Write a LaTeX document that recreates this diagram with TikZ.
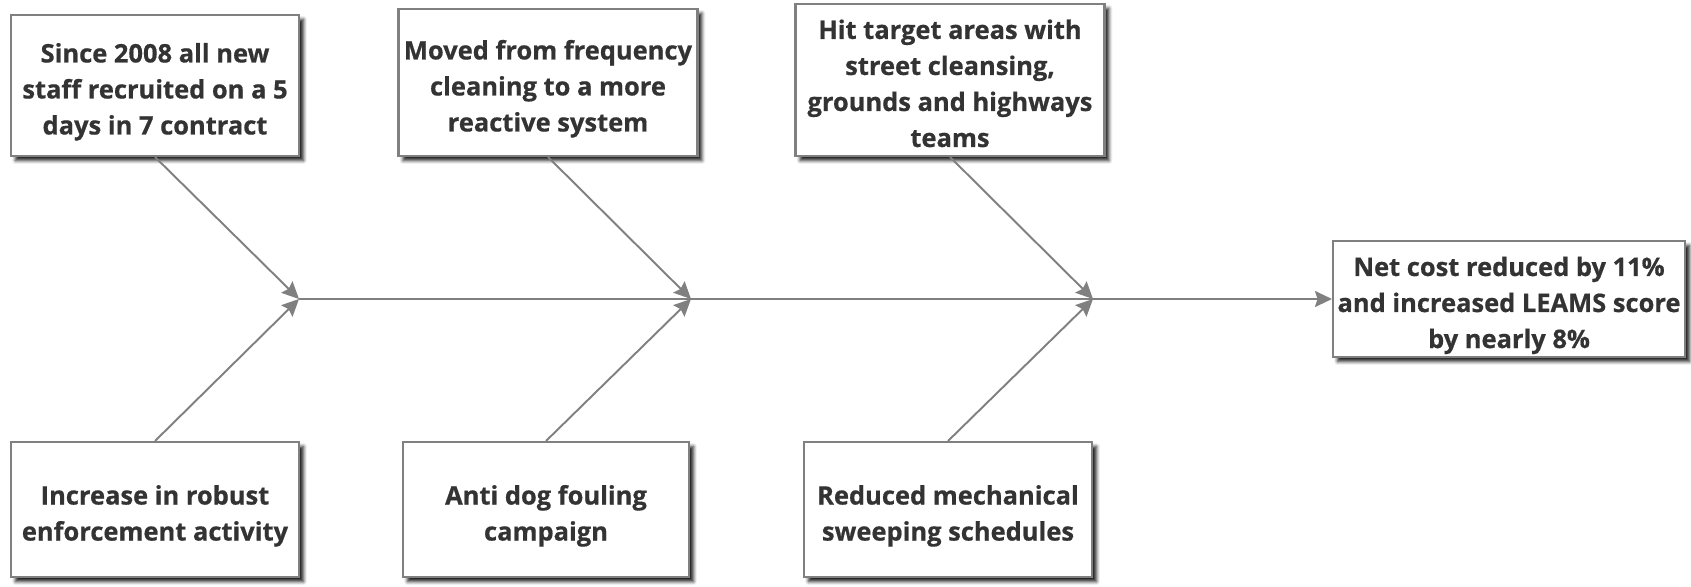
\documentclass[tikz,border=0pt]{standalone}
\usepackage{fontspec}
\setmainfont{Open Sans}[BoldFont={* Bold}, BoldFeatures={FakeBold=0.6}]
\usetikzlibrary{arrows.meta,shadows.blur}
\definecolor{linegray}{HTML}{808080}
\definecolor{textgray}{HTML}{333333}
% text of a box, set a little lower than centre
\newcommand{\boxlines}[1]{\raisebox{-3.3pt}[\height][\depth]{\begin{tabular}{@{}c@{}}#1\end{tabular}}}
\begin{document}
\begin{tikzpicture}[
  x=0.02cm, y=-0.02cm,
  box/.style={draw=linegray, line width=1.2pt, fill=white, align=center, inner sep=1pt,
    text=textgray, font=\fontsize{14.5}{20.5}\selectfont\bfseries,
    blur shadow={shadow xshift=0.09cm, shadow yshift=-0.09cm, shadow blur radius=0.07cm, shadow opacity=90}},
  arrow/.style={-{Stealth[length=0.34cm, width=0.32cm, inset=0.05cm]}, draw=linegray, fill=linegray, line width=1.1pt}
]
\useasboundingbox (0,0) rectangle (1691,587);
% causes above the spine
\node[box, anchor=south, minimum width=5.76cm, minimum height=2.82cm] (staff) at (155,157) {\boxlines{Since 2008 all new\\staff recruited on a 5\\days in 7 contract}};
\node[box, anchor=south, minimum width=5.98cm, minimum height=2.94cm] (clean) at (548,157) {\boxlines{Moved from frequency\\cleaning to a more\\reactive system}};
\node[box, anchor=south, minimum width=6.18cm, minimum height=3.04cm] (target) at (950,157) {\boxlines{Hit target areas with\\street cleansing,\\grounds and highways\\teams}};
% causes below the spine
\node[box, anchor=north, minimum width=5.76cm, minimum height=2.7cm] (enforce) at (155,441) {\boxlines{Increase in robust\\enforcement activity}};
\node[box, anchor=north, minimum width=5.72cm, minimum height=2.7cm] (dog) at (546,441) {\boxlines{Anti dog fouling\\campaign}};
\node[box, anchor=north, minimum width=5.76cm, minimum height=2.7cm] (sweep) at (948,441) {\boxlines{Reduced mechanical\\sweeping schedules}};
% effect
\node[box, minimum width=7.04cm, minimum height=2.32cm] (result) at (1509,299) {\boxlines{Net cost reduced by 11\%\\and increased LEAMS score\\by nearly 8\%}};
\coordinate (j1) at (299,299);
\coordinate (j2) at (691,299);
\coordinate (j3) at (1093,299);
\draw[draw=linegray, line width=1.1pt] (j1) -- (j3);
\draw[arrow] (j3) -- (result);
\draw[arrow] (staff.south) -- (j1);
\draw[arrow] (enforce.north) -- (j1);
\draw[arrow] (clean.south) -- (j2);
\draw[arrow] (dog.north) -- (j2);
\draw[arrow] (target.south) -- (j3);
\draw[arrow] (sweep.north) -- (j3);
\end{tikzpicture}
\end{document}
